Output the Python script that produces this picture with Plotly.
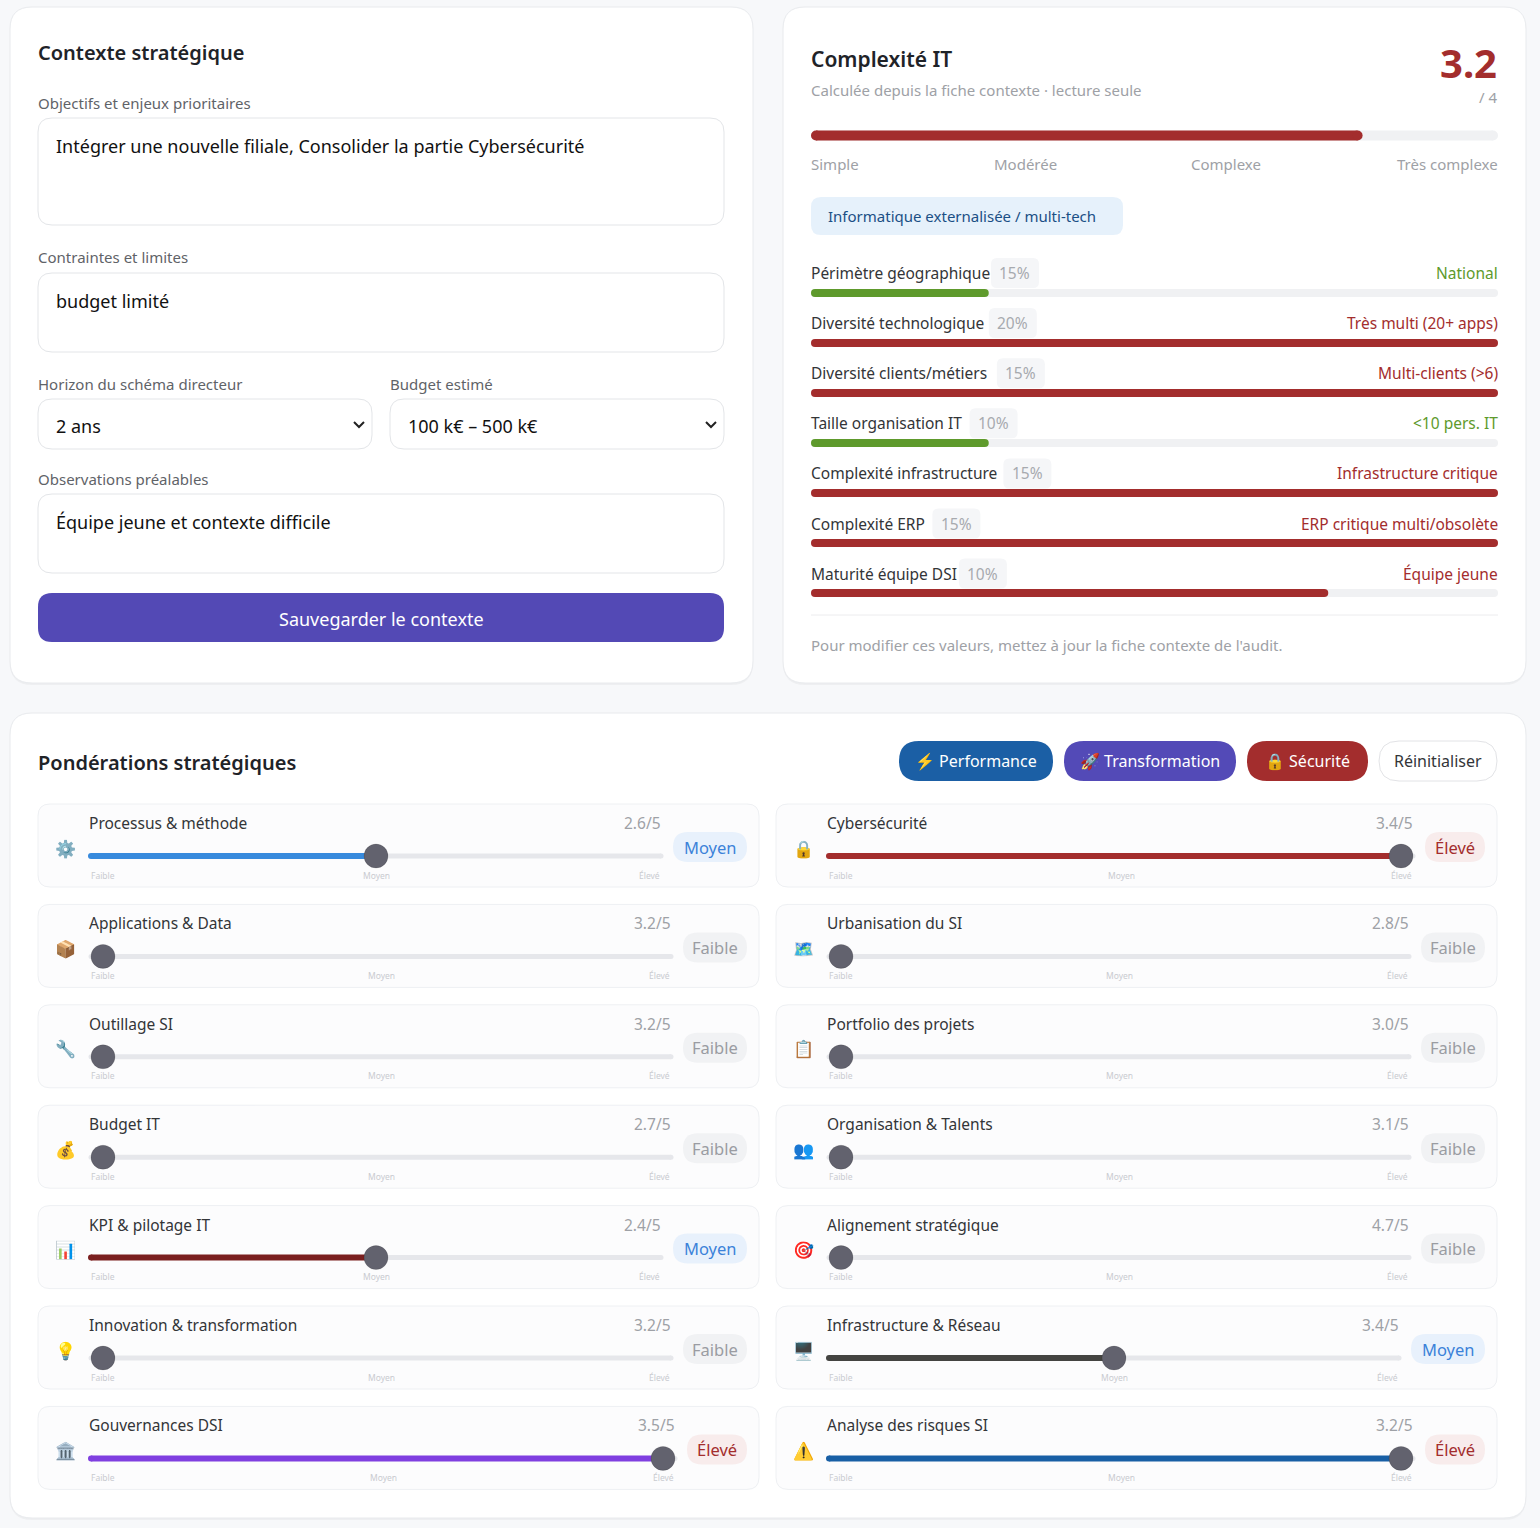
import plotly.graph_objects as go

W, H = 1540, 1528
FONT = "Noto Sans, Noto Color Emoji, sans-serif"

########################################################################
# Data
########################################################################
objectifs = "Intégrer une nouvelle filiale, Consolider la partie Cybersécurité"
contraintes = "budget limité"
horizon = "2 ans"
budget = "100 k€ – 500 k€"
observations = "Équipe jeune et contexte difficile"

complexity_score = 3.2
complexity_max = 4
complexity_levels = ["Simple", "Modérée", "Complexe", "Très complexe"]
profile_tag = "Informatique externalisée / multi-tech"

factor_names = ["Périmètre géographique", "Diversité technologique", "Diversité clients/métiers",
                "Taille organisation IT", "Complexité infrastructure", "Complexité ERP",
                "Maturité équipe DSI"]
factor_weights = [15, 20, 15, 10, 15, 15, 10]
factor_answers = ["National", "Très multi (20+ apps)", "Multi-clients (>6)", "<10 pers. IT",
                  "Infrastructure critique", "ERP critique multi/obsolète", "Équipe jeune"]
factor_levels = [1, 4, 4, 1, 4, 4, 3]

presets = ["Performance", "Transformation", "Sécurité", "Réinitialiser"]
preset_icons = ["⚡", "🚀", "🔒", ""]

level_labels = ["Faible", "Moyen", "Élevé"]

left_names = ["Processus & méthode", "Applications & Data", "Outillage SI", "Budget IT",
              "KPI & pilotage IT", "Innovation & transformation", "Gouvernances DSI"]
left_icons = ["⚙️", "📦", "🔧", "💰", "📊", "💡", "🏛️"]
left_scores = [2.6, 3.2, 3.2, 2.7, 2.4, 3.2, 3.5]
left_levels = [1, 0, 0, 0, 1, 0, 2]

right_names = ["Cybersécurité", "Urbanisation du SI", "Portfolio des projets",
               "Organisation & Talents", "Alignement stratégique", "Infrastructure & Réseau",
               "Analyse des risques SI"]
right_icons = ["🔒", "🗺️", "📋", "👥", "🎯", "🖥️", "⚠️"]
right_scores = [3.4, 2.8, 3.0, 3.1, 4.7, 3.4, 3.2]
right_levels = [2, 0, 0, 0, 0, 1, 2]

########################################################################
# Styles
########################################################################
BG = "#f7f8fa"
DARK = "#1f2328"
TEXT = "#333538"
GREY = "#9ea1a6"
LABEL = "#5f6368"
RED = "#a32d2d"
GREEN = "#5e9a2c"
TRACK = "#f0f1f3"
SL_TRACK = "#e6e7eb"
KNOB = "#62626e"
left_colors = ["#378add", None, None, None, "#7a1f1f", None, "#7f3fe0"]
right_colors = ["#a32d2d", None, None, None, None, "#444441", "#185fa5"]
preset_colors = ["#1b5fa5", "#534ab7", "#a32d2d", "#ffffff"]
preset_x = [(899, 1053), (1064, 1236), (1247, 1368), (1379, 1497)]
badge_style = {"Faible": ("#f1f2f4", "#9a9ca2", 64),
               "Moyen": ("#e8f1fc", "#3b82d9", 74),
               "Élevé": ("#f8ecec", "#a32d2d", 60)}
KR = 12  # knob radius


def esc(s):
    return s.replace("&", "&amp;").replace("<", "&lt;").replace(">", "&gt;")


def rr(x0, y0, x1, y1, r):
    return (f"M{x0+r},{y0} L{x1-r},{y0} Q{x1},{y0} {x1},{y0+r} L{x1},{y1-r} "
            f"Q{x1},{y1} {x1-r},{y1} L{x0+r},{y1} Q{x0},{y1} {x0},{y1-r} "
            f"L{x0},{y0+r} Q{x0},{y0} {x0+r},{y0} Z")


# rough text width (em) for the pills after labels
NARROW = set("iljI.,' :")
SEMI = set("tfr/()-")
WIDE = set("mwMW")


def text_w(s, size):
    w = 0
    for c in s:
        if c in NARROW:
            w += 0.26
        elif c in SEMI:
            w += 0.37
        elif c in WIDE:
            w += 0.86
        elif c.isupper():
            w += 0.63
        else:
            w += 0.57
    return w * size


fig = go.Figure()


def box(x0, y0, x1, y1, r, fill, line=None, lw=1):
    fig.add_shape(type="path", path=rr(x0, y0, x1, y1, r), xref="x", yref="y",
                  fillcolor=fill, line=dict(color=line or fill, width=lw if line else 0),
                  layer="below")


def txt(x, y, s, size, color, anchor="left", weight=400, xref="x"):
    shift = {"left": -2, "right": 2, "center": 0}[anchor]
    fig.add_annotation(x=x, y=y, xref=xref, yref="y", text=esc(s), showarrow=False,
                       xanchor=anchor, yanchor="middle", xshift=shift,
                       font=dict(family=FONT, size=size, color=color, weight=weight))


def bar(axis, x0, x1, y, color, width):
    # line + round markers at both ends = rounded bar
    fig.add_trace(go.Scatter(x=[x0, x1], y=[y, y], xaxis=axis, yaxis="y", mode="lines+markers",
                             line=dict(color=color, width=width),
                             marker=dict(size=width, color=color), cliponaxis=False,
                             hoverinfo="skip", showlegend=False))


########################################################################
# Cards
########################################################################
for (x0, y0, x1, y1) in [(10, 7, 753, 683), (783, 7, 1526, 683), (10, 713, 1526, 1518)]:
    box(x0, y0 + 2, x1, y1 + 2, 22, "rgba(0,0,0,0.035)")
    box(x0, y0, x1, y1, 22, "#ffffff", "#e8eaed")

# ---- Contexte stratégique ----
txt(38, 52, "Contexte stratégique", 20, DARK, weight=600)
fields = [("Objectifs et enjeux prioritaires", objectifs, 103, (38, 118, 724, 225)),
          ("Contraintes et limites", contraintes, 257, (38, 273, 724, 352)),
          ("Observations préalables", observations, 479, (38, 494, 724, 573))]
for lab, val, ly, (x0, y0, x1, y1) in fields:
    txt(38, ly, lab, 15, LABEL)
    box(x0, y0, x1, y1, 14, "#ffffff", "#e3e5e8")
    txt(56, y0 + 28, val, 18, "#111111")

for lab, val, lx, (x0, x1) in [("Horizon du schéma directeur", horizon, 38, (38, 372)),
                               ("Budget estimé", budget, 390, (390, 724))]:
    txt(lx, 384, lab, 15, LABEL)
    box(x0, 399, x1, 449, 14, "#ffffff", "#e3e5e8")
    txt(x0 + 18, 426, val, 18, "#111111")
    fig.add_shape(type="path", path=f"M{x1-18},{422} L{x1-13},{427} L{x1-8},{422}",
                  xref="x", yref="y", line=dict(color="#222222", width=2))

box(38, 593, 724, 642, 14, "#5349b5")
txt(381, 619, "Sauvegarder le contexte", 18, "#ffffff", anchor="center")

# ---- Complexité IT ----
txt(811, 59, "Complexité IT", 21, DARK, weight=600)
txt(811, 90, "Calculée depuis la fiche contexte · lecture seule", 15, GREY)
txt(1497, 62, f"{complexity_score:.1f}", 40, RED, anchor="right", weight=700)
txt(1497, 97, f"/ {complexity_max}", 15, GREY, anchor="right")

fig.update_layout(xaxis2=dict(domain=[816 / W, 1493 / W], range=[0, complexity_max],
                              visible=False, anchor="y", fixedrange=True))
bar("x2", 0, complexity_max, 135.5, TRACK, 10)
bar("x2", 0, complexity_score, 135.5, RED, 10)

for name, (xx, anc) in zip(complexity_levels, [(811, "left"), (1025, "center"),
                                               (1226, "center"), (1498, "right")]):
    txt(xx, 164, name, 15, GREY, anchor=anc)

box(811, 197, 1123, 235, 10, "#e6f1fb")
txt(828, 216, profile_tag, 15, "#1b4f85")

fig.update_layout(xaxis3=dict(domain=[815 / W, 1494 / W], range=[0, complexity_max],
                              visible=False, anchor="y", fixedrange=True))
for i, (name, wgt, ans, lvl) in enumerate(zip(factor_names, factor_weights,
                                               factor_answers, factor_levels)):
    ly = 273 + i * 50.1
    by = 293 + i * 50
    col = GREEN if lvl <= 1 else RED
    txt(811, ly, name, 15.5, TEXT)
    px0 = 811 + text_w(name, 15.5) + 7
    box(px0, ly - 15, px0 + 48, ly + 15, 6, "#f5f6f8")
    txt(px0 + 24, ly, f"{wgt}%", 15.5, "#a7aaaf", anchor="center")
    txt(1498, ly, ans, 15.5, col, anchor="right")
    bar("x3", 0, complexity_max, by, TRACK, 8)
    bar("x3", 0, lvl, by, col, 8)

fig.add_shape(type="line", x0=811, x1=1498, y0=615, y1=615, xref="x", yref="y",
              line=dict(color="#ececee", width=1))
txt(811, 645, "Pour modifier ces valeurs, mettez à jour la fiche contexte de l'audit.", 15, GREY)

# ---- Pondérations stratégiques ----
txt(38, 762, "Pondérations stratégiques", 20, DARK, weight=600)
for name, icon, colr, (x0, x1) in zip(presets, preset_icons, preset_colors, preset_x):
    if colr == "#ffffff":
        box(x0, 741, x1, 781, 20, colr, "#e2e3e6")
        txt((x0 + x1) / 2, 761, name, 16, TEXT, anchor="center")
    else:
        box(x0, 741, x1, 781, 20, colr)
        txt((x0 + x1) / 2, 761, f"{icon} {name}", 16, "#ffffff", anchor="center")

axis_id = 4
for col, (names, icons, scores, levels, colors) in enumerate([
        (left_names, left_icons, left_scores, left_levels, left_colors),
        (right_names, right_icons, right_scores, right_levels, right_colors)]):
    bx0, bx1 = (38, 759) if col == 0 else (776, 1497)
    icon_x = bx0 + 27
    name_x = bx0 + 51
    badge_r = bx1 - 12
    for i in range(len(names)):
        top = 804 + i * 100.4
        box(bx0, top, bx1, top + 83, 12, "#fcfcfd", "#eef0f3")
        lvl = levels[i]
        lab = level_labels[lvl]
        bfill, bcol, bw = badge_style[lab]
        s = name_x + 2
        e = badge_r - bw - 12
        u = (e - s - 2 * KR) / 2
        lo, hi = -KR / u, 2 + KR / u
        ax = f"x{axis_id}"
        fig.layout[f"xaxis{axis_id}"] = dict(domain=[s / W, e / W], range=[lo, hi],
                                             visible=False, anchor="y", fixedrange=True)
        ty = top + 52
        bar(ax, lo, hi, ty, SL_TRACK, 5)
        if colors[i]:
            bar(ax, lo, lvl, ty, colors[i], 6)
        fig.add_trace(go.Scatter(x=[lvl], y=[ty], xaxis=ax, yaxis="y", mode="markers",
                                 marker=dict(size=2 * KR, color=KNOB,
                                             line=dict(color="rgba(0,0,0,0.12)", width=1)),
                                 cliponaxis=False, hoverinfo="skip", showlegend=False))
        for k, ll in enumerate(level_labels):
            txt(k, top + 71, ll, 8.5, "#c9cbd0", anchor="center", xref=ax)
        txt(1, top + 19, f"{scores[i]:.1f}/5", 15.5, GREY, anchor="right", xref=f"{ax} domain")
        txt(name_x, top + 19, names[i], 15.5, TEXT)
        txt(icon_x, top + 44, icons[i], 17, TEXT, anchor="center")
        box(badge_r - bw, top + 28, badge_r, top + 58, 15, bfill)
        txt(badge_r - bw / 2, top + 43, lab, 16.5, bcol, anchor="center")
        axis_id += 1

fig.update_layout(
    width=W, height=H,
    margin=dict(l=0, r=0, t=0, b=0),
    paper_bgcolor=BG, plot_bgcolor="rgba(0,0,0,0)",
    xaxis=dict(range=[0, W], domain=[0, 1], visible=False, fixedrange=True),
    yaxis=dict(range=[H, 0], domain=[0, 1], visible=False, fixedrange=True),
    showlegend=False,
)

fig.write_html("out.html", config={"displayModeBar": False},
               post_script="document.body.style.margin='0';document.body.style.overflow='hidden';")
